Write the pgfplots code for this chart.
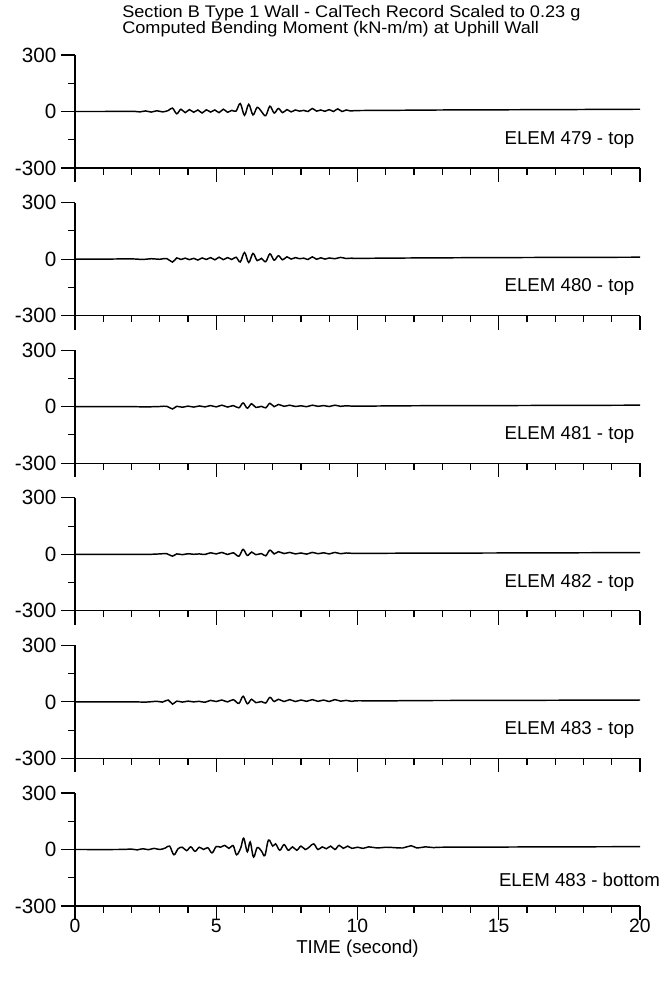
\documentclass[border=0pt]{standalone}
\usepackage{fontspec}
\setmainfont{Liberation Sans}
\newfontfamily\titlefont{Liberation Sans}[FakeStretch=1.08]
\usepackage{pgfplots}
\pgfplotsset{compat=1.18}
\pgfplotsset{
  panel/.style={
    scale only axis, width=423.75pt, height=84.75pt,
    anchor=south west,
    xmin=0, xmax=20, ymin=-300, ymax=300,
    axis x line=bottom, axis y line=left,
    axis line style={-, line width=0.8pt, black},
    tick style={line width=0.8pt, black},
    xtick={0,5,10,15,20}, minor x tick num=4,
    ytick={-300,0,300}, yticklabels={-300,0,300}, minor y tick num=1,
    tick align=outside,
    major tick length=10.5pt, minor tick length=5pt,
    xticklabels={},
    yticklabel style={font=\fontsize{15.5}{17}\selectfont},
    xticklabel style={font=\fontsize{14.5}{16}\selectfont, yshift=4pt},
    clip=false,
  },
  sig/.style={black, line width=1.1pt, no marks, smooth, tension=0.6},
}
\newcommand{\elem}[1]{\node[anchor=west, inner sep=0pt, font=\fontsize{14}{16}\selectfont] at (axis cs:15.2,-150) {#1};}
\begin{document}
\begin{tikzpicture}
\useasboundingbox (0,0) rectangle (496.5pt,737.25pt);
\node[anchor=base west, inner sep=0pt, font=\titlefont\fontsize{12.6}{14}\selectfont] at (91.5pt,724pt) {Section B Type 1 Wall - CalTech Record Scaled to 0.23 g};
\node[anchor=base west, inner sep=0pt, font=\titlefont\fontsize{12.6}{14}\selectfont] at (91.5pt,712pt) {Computed Bending Moment (kN-m/m) at Uphill Wall};

% Panel 1: ELEM 479 - top
\begin{axis}[panel, at={(56.25pt,611.25pt)}]
\addplot[sig] coordinates {
(0,0) (1,0) (2,1) (2.3,-2) (2.5,3) (2.7,-3) (2.9,4) (3.1,-2) (3.3,5) (3.45,18) (3.6,-12) (3.75,12) (3.9,-6) (4.05,10) (4.2,-4) (4.35,8) (4.5,-8) (4.65,9) (4.8,-3) (4.95,8) (5.1,-6) (5.25,12) (5.4,-4) (5.55,6) (5.7,2) (5.85,42) (6.0,-20) (6.15,38) (6.3,-18) (6.45,22) (6.6,0) (6.75,-22) (6.9,28) (7.05,-8) (7.2,16) (7.35,-6) (7.5,10) (7.65,-2) (7.8,8) (7.95,2) (8.1,6) (8.25,0) (8.4,16) (8.55,2) (8.7,8) (8.85,1) (9.0,10) (9.15,0) (9.3,14) (9.45,0) (9.6,8) (9.75,3) (10,5) (11,6) (12,7) (13,8) (15,9) (17,10) (20,12)
};
\elem{ELEM 479 - top}
\end{axis}

% Panel 2: ELEM 480 - top
\begin{axis}[panel, at={(56.25pt,500.55pt)}]
\addplot[sig] coordinates {
(0,0) (1,0) (2,1) (2.4,-2) (2.7,2) (3.0,-1) (3.25,3) (3.45,-16) (3.6,6) (3.75,-2) (3.9,5) (4.05,-3) (4.2,4) (4.35,-5) (4.5,6) (4.65,-2) (4.8,8) (4.95,-4) (5.1,10) (5.25,-3) (5.4,8) (5.55,-2) (5.7,10) (5.85,-15) (6.0,35) (6.15,-18) (6.3,30) (6.45,-8) (6.6,4) (6.75,-14) (6.9,28) (7.05,-6) (7.2,18) (7.35,-4) (7.5,12) (7.65,0) (7.8,8) (7.95,2) (8.1,5) (8.25,-2) (8.4,12) (8.55,-1) (8.7,7) (8.85,0) (9.0,6) (9.2,2) (9.4,9) (9.6,3) (9.8,5) (10,4) (12,6) (15,8) (20,10)
};
\elem{ELEM 480 - top}
\end{axis}

% Panel 3: ELEM 481 - top
\begin{axis}[panel, at={(56.25pt,389.85pt)}]
\addplot[sig] coordinates {
(0,0) (2,0) (2.5,-1) (3.0,1) (3.25,2) (3.45,-12) (3.6,2) (3.8,-3) (4.0,3) (4.2,-2) (4.4,4) (4.6,-1) (4.8,6) (5.0,-1) (5.2,8) (5.4,-2) (5.6,6) (5.8,-6) (5.95,20) (6.1,-8) (6.25,16) (6.4,-4) (6.6,2) (6.75,-6) (6.9,18) (7.05,0) (7.2,12) (7.4,2) (7.6,8) (7.8,1) (8.0,5) (8.2,0) (8.4,8) (8.6,2) (8.8,6) (9.0,1) (9.2,8) (9.4,2) (9.6,5) (10,3) (12,5) (15,6) (20,8)
};
\elem{ELEM 481 - top}
\end{axis}

% Panel 4: ELEM 482 - top
\begin{axis}[panel, at={(56.25pt,279.15pt)}]
\addplot[sig] coordinates {
(0,0) (2,0) (2.5,-1) (3.0,2) (3.25,3) (3.45,-10) (3.6,2) (3.8,-2) (4.0,3) (4.2,0) (4.4,2) (4.6,-1) (4.8,8) (5.0,2) (5.2,10) (5.4,-1) (5.6,8) (5.8,-10) (5.95,26) (6.1,-6) (6.25,12) (6.4,-2) (6.6,4) (6.75,-8) (6.9,22) (7.05,2) (7.2,14) (7.4,4) (7.6,10) (7.8,2) (8.0,7) (8.2,1) (8.4,10) (8.6,3) (8.8,8) (9.0,2) (9.2,10) (9.4,3) (9.6,7) (10,5) (12,6) (15,7) (20,9)
};
\elem{ELEM 482 - top}
\end{axis}

% Panel 5: ELEM 483 - top
\begin{axis}[panel, at={(56.25pt,168.45pt)}]
\addplot[sig] coordinates {
(0,0) (2,0) (2.5,-1) (2.9,3) (3.1,-1) (3.3,10) (3.45,-12) (3.6,4) (3.8,-1) (4.0,4) (4.2,0) (4.4,3) (4.6,-2) (4.8,8) (5.0,2) (5.2,10) (5.4,0) (5.6,12) (5.8,-8) (5.95,30) (6.1,-10) (6.25,14) (6.4,-4) (6.6,2) (6.75,-6) (6.9,24) (7.05,2) (7.2,14) (7.4,2) (7.6,12) (7.8,2) (8.0,10) (8.2,3) (8.4,12) (8.6,3) (8.8,10) (9.0,2) (9.2,12) (9.4,4) (9.6,8) (9.8,3) (10,6) (11,5) (12,7) (15,8) (20,10)
};
\elem{ELEM 483 - top}
\end{axis}

% Panel 6: ELEM 483 - bottom
\begin{axis}[panel, at={(56.25pt,57.75pt)}, xticklabels={0,5,10,15,20}]
\addplot[sig] coordinates {
(0,0) (1.5,0) (2.0,2) (2.2,-2) (2.4,4) (2.6,-1) (2.8,6) (3.0,0) (3.2,8) (3.35,18) (3.5,-28) (3.65,4) (3.8,12) (3.95,-6) (4.1,14) (4.25,-10) (4.4,12) (4.55,0) (4.7,10) (4.85,-18) (5.0,16) (5.15,12) (5.3,22) (5.45,6) (5.6,20) (5.72,-28) (5.87,10) (5.97,60) (6.1,-12) (6.2,40) (6.32,-40) (6.45,10) (6.6,-8) (6.72,-32) (6.85,50) (7.0,18) (7.1,30) (7.25,-4) (7.4,26) (7.55,-4) (7.7,14) (7.85,-4) (8.0,18) (8.15,0) (8.3,14) (8.45,30) (8.6,0) (8.75,14) (8.9,4) (9.05,18) (9.2,0) (9.35,22) (9.5,6) (9.65,18) (9.8,6) (10.0,12) (10.2,6) (10.4,14) (10.7,8) (11.0,12) (11.3,10) (11.6,8) (11.9,20) (12.1,8) (12.4,14) (12.7,10) (13,12) (15,13) (17,14) (20,15)
};
\node[anchor=west, inner sep=0pt, font=\fontsize{14}{16}\selectfont] at (axis cs:15.0,-160) {ELEM 483 - bottom};
\end{axis}
\node[font=\fontsize{14}{16}\selectfont] at (268.1pt,26pt) {TIME (second)};
\end{tikzpicture}
\end{document}
